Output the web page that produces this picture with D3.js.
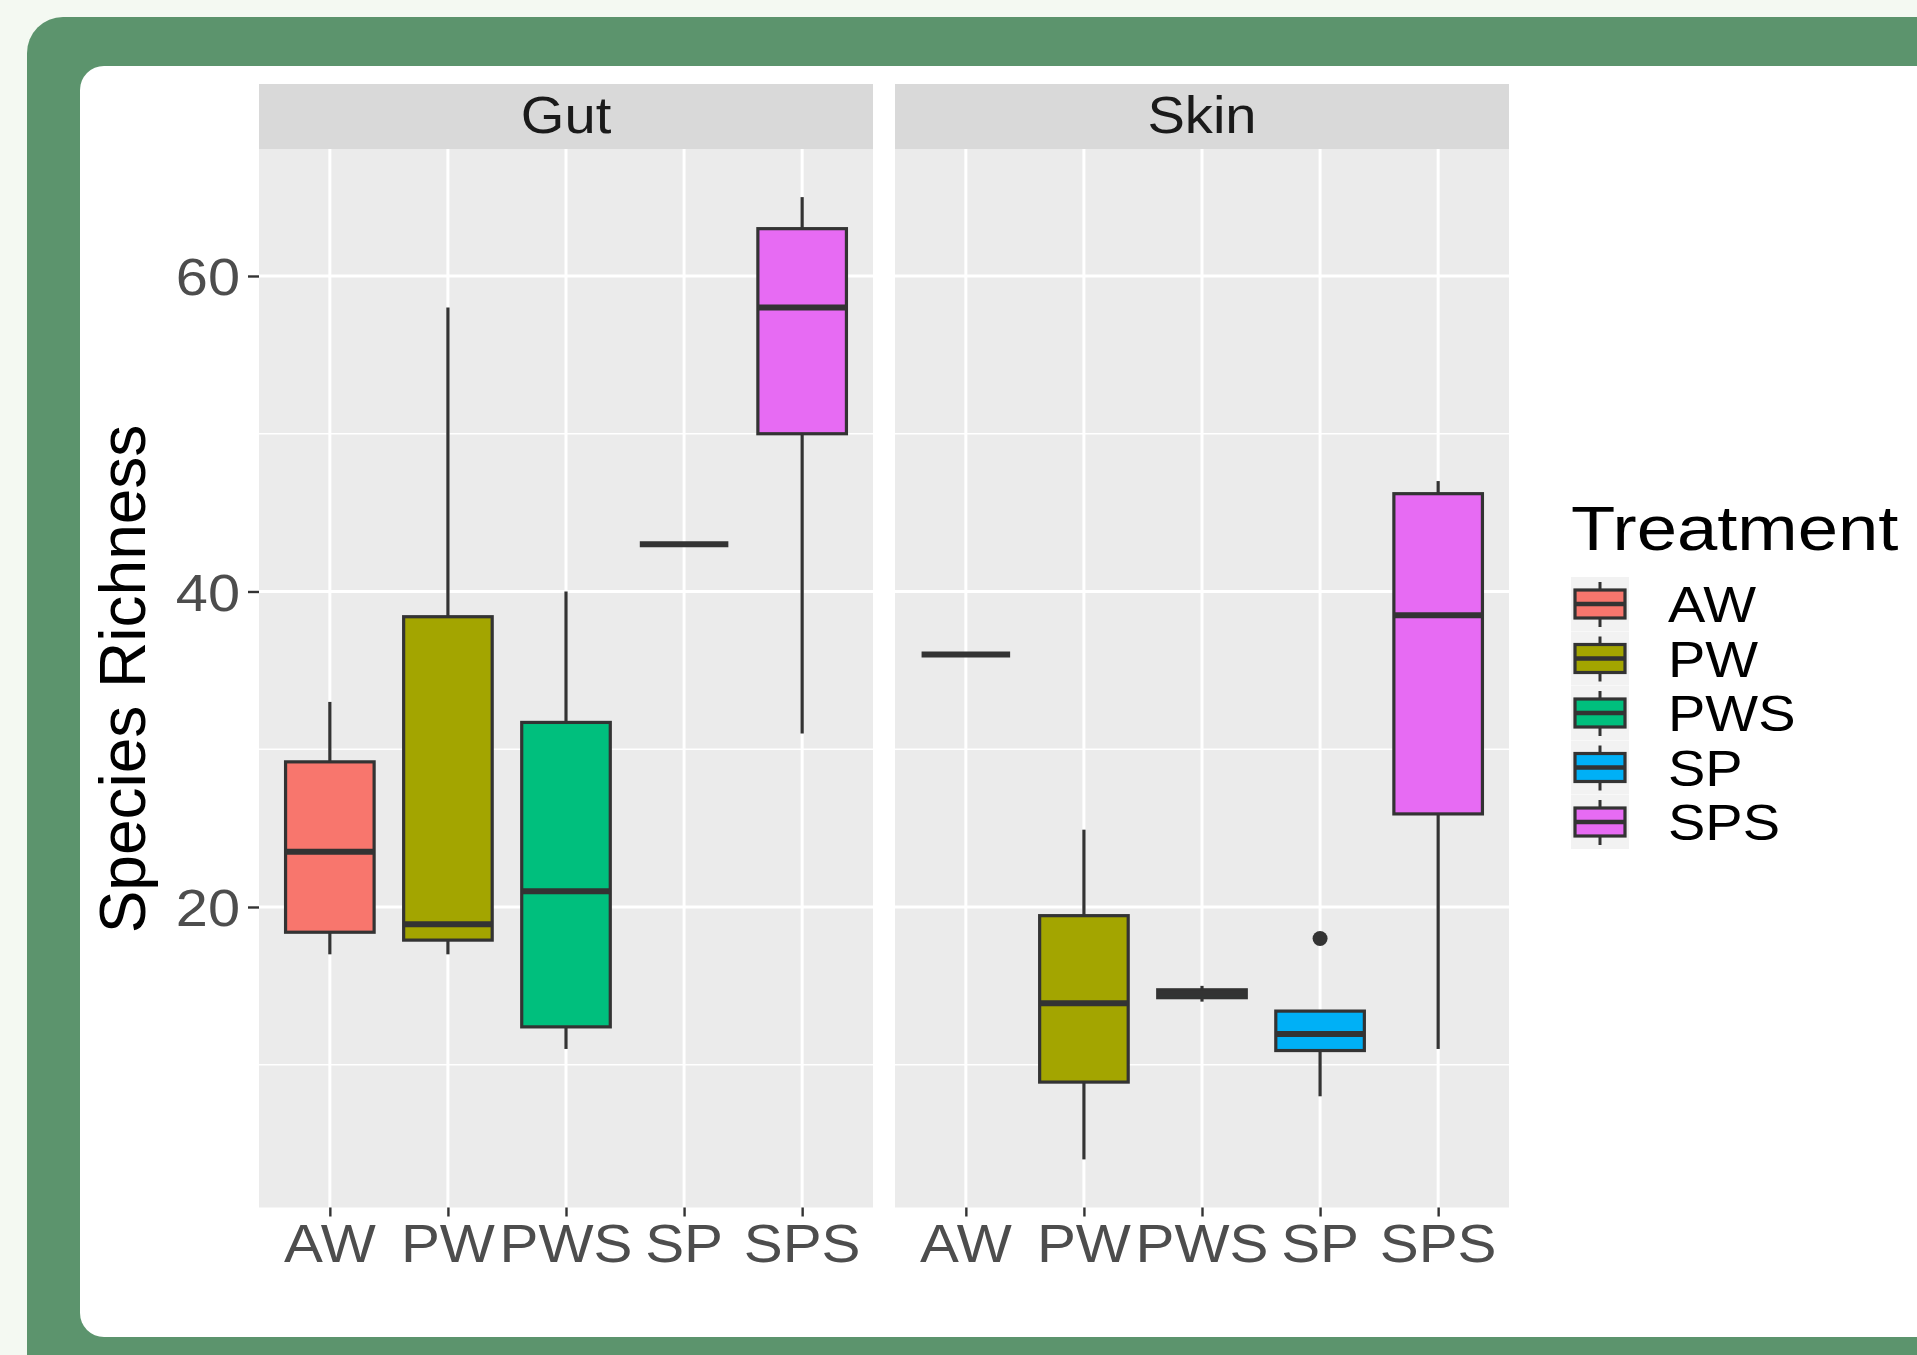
<!DOCTYPE html>
<html>
<head>
<meta charset="utf-8">
<title>Species richness by treatment</title>
<script src="https://cdn.jsdelivr.net/npm/d3@7/dist/d3.min.js"></script>
<style>
  body { margin: 0; background: #f4f9f2; }
  svg { display: block; font-family: "Liberation Sans", Arial, sans-serif; }
</style>
</head>
<body>
<svg id="chart" width="1917" height="1355"></svg>
<script>
// values
var treatments = ['AW', 'PW', 'PWS', 'SP', 'SPS'];
var fills = ['#F8766D', '#A3A500', '#00BF7D', '#00B0F6', '#E76BF3'];
var tissues = ['Gut', 'Skin'];

var gutLower = [17, 17, 11, 43, 31];
var gutQ1 = [18.4, 17.9, 12.4, 43, 50];
var gutMedian = [23.5, 18.9, 21, 43, 58];
var gutQ3 = [29.2, 38.4, 31.7, 43, 63];
var gutUpper = [33, 58, 40, 43, 65];
var gutOutliers = [[], [], [], [], []];

var skinLower = [36, 4, 14, 8, 11];
var skinQ1 = [36, 8.9, 14.25, 10.9, 25.9];
var skinMedian = [36, 13.9, 14.5, 11.95, 38.5];
var skinQ3 = [36, 19.45, 14.75, 13.4, 46.2];
var skinUpper = [36, 24.9, 15, 13.4, 47];
var skinOutliers = [[], [], [], [18], []];

var yMajor = [20, 40, 60];
var yMinor = [10, 30, 50];

function boxes(lo, q1, md, q3, hi, outl) {
  return treatments.map(function (t, i) {
    return {t: t, fill: fills[i], lo: lo[i], q1: q1[i], md: md[i], q3: q3[i], hi: hi[i], out: outl[i]};
  });
}
var panels = [
  {name: tissues[0], left: 259, data: boxes(gutLower, gutQ1, gutMedian, gutQ3, gutUpper, gutOutliers)},
  {name: tissues[1], left: 895, data: boxes(skinLower, skinQ1, skinMedian, skinQ3, skinUpper, skinOutliers)}
];

var svg = d3.select('#chart');
var panelW = 614, plotTop = 149, plotBottom = 1207.5, stripTop = 84;
var SX = 1.1;
var ink = '#333333', lw = 3.2;

// horizontal text, slightly stretched like the original bitmap
function label(g, x, y, str, size, anchor, fill, sx) {
  return g.append('text')
    .attr('transform', 'translate(' + x + ',' + y + ') scale(' + (sx || SX) + ',1)')
    .attr('text-anchor', anchor)
    .attr('font-size', size)
    .attr('fill', fill)
    .text(str);
}

// framing
svg.append('rect').attr('x', 27).attr('y', 17).attr('width', 1960).attr('height', 1400)
  .attr('rx', 36).attr('fill', '#5c946d');
svg.append('rect').attr('x', 80).attr('y', 66).attr('width', 1900).attr('height', 1271)
  .attr('rx', 24).attr('fill', '#ffffff');

var y = d3.scaleLinear().domain([0.95, 68.05]).range([plotBottom, plotTop]);

panels.forEach(function (p) {
  var x = d3.scalePoint().domain(treatments).range([p.left, p.left + panelW]).padding(0.6);
  var g = svg.append('g');
  var bw = x.step() * 0.75;

  g.append('rect').attr('x', p.left).attr('y', stripTop).attr('width', panelW).attr('height', plotTop - stripTop)
    .attr('fill', '#d9d9d9');
  label(g, p.left + panelW / 2, 133, p.name, 51, 'middle', '#1a1a1a');

  g.append('rect').attr('x', p.left).attr('y', plotTop).attr('width', panelW).attr('height', plotBottom - plotTop)
    .attr('fill', '#ebebeb');

  g.selectAll('.minor').data(yMinor).enter().append('line')
    .attr('x1', p.left).attr('x2', p.left + panelW)
    .attr('y1', function (d) { return y(d); }).attr('y2', function (d) { return y(d); })
    .attr('stroke', '#fff').attr('stroke-width', 1.6);
  g.selectAll('.major').data(yMajor).enter().append('line')
    .attr('x1', p.left).attr('x2', p.left + panelW)
    .attr('y1', function (d) { return y(d); }).attr('y2', function (d) { return y(d); })
    .attr('stroke', '#fff').attr('stroke-width', 3);
  g.selectAll('.vgrid').data(treatments).enter().append('line')
    .attr('x1', function (d) { return x(d); }).attr('x2', function (d) { return x(d); })
    .attr('y1', plotTop).attr('y2', plotBottom)
    .attr('stroke', '#fff').attr('stroke-width', 3);

  // x axis
  var xa = g.append('g').attr('transform', 'translate(0,' + plotBottom + ')')
    .call(d3.axisBottom(x).tickSize(9).tickPadding(0).tickFormat(''));
  xa.select('.domain').remove();
  xa.selectAll('line').attr('stroke', ink).attr('stroke-width', 2.4);
  treatments.forEach(function (t) {
    label(g, x(t), 1262, t, 54, 'middle', '#4d4d4d', 1.08);
  });

  // boxes
  var b = g.selectAll('.box').data(p.data).enter().append('g');
  b.append('line')
    .attr('x1', function (d) { return x(d.t); }).attr('x2', function (d) { return x(d.t); })
    .attr('y1', function (d) { return y(d.hi); }).attr('y2', function (d) { return y(d.q3); })
    .attr('stroke', ink).attr('stroke-width', lw);
  b.append('line')
    .attr('x1', function (d) { return x(d.t); }).attr('x2', function (d) { return x(d.t); })
    .attr('y1', function (d) { return y(d.q1); }).attr('y2', function (d) { return y(d.lo); })
    .attr('stroke', ink).attr('stroke-width', lw);
  b.append('rect')
    .attr('x', function (d) { return x(d.t) - bw / 2; })
    .attr('y', function (d) { return y(d.q3); })
    .attr('width', bw)
    .attr('height', function (d) { return y(d.q1) - y(d.q3); })
    .attr('fill', function (d) { return d.fill; })
    .attr('stroke', ink).attr('stroke-width', lw);
  b.append('line')
    .attr('x1', function (d) { return x(d.t) - bw / 2; }).attr('x2', function (d) { return x(d.t) + bw / 2; })
    .attr('y1', function (d) { return y(d.md); }).attr('y2', function (d) { return y(d.md); })
    .attr('stroke', ink).attr('stroke-width', 6);
  b.each(function (d) {
    d3.select(this).selectAll('circle').data(d.out).enter().append('circle')
      .attr('cx', x(d.t)).attr('cy', function (v) { return y(v); }).attr('r', 7.5)
      .attr('fill', ink);
  });
});

// y axis
var ya = svg.append('g').attr('transform', 'translate(259,0)')
  .call(d3.axisLeft(y).tickValues(yMajor).tickSize(11).tickPadding(8));
ya.select('.domain').remove();
ya.selectAll('line').attr('stroke', ink).attr('stroke-width', 2.4);
ya.selectAll('text')
  .attr('font-size', 52).attr('fill', '#4d4d4d')
  .attr('x', -19 / 1.11).attr('dy', '0.36em')
  .attr('transform', 'scale(1.11,1)');

svg.append('text')
  .attr('transform', 'translate(145,679) rotate(-90)')
  .attr('text-anchor', 'middle').attr('font-size', 64).attr('fill', '#000')
  .text('Species Richness');

// legend
var lg = svg.append('g');
label(lg, 1571, 550, 'Treatment', 63, 'start', '#000', 1.15);
var rowY = d3.scalePoint().domain(treatments).range([604, 822]);
var items = lg.selectAll('.item').data(treatments).enter().append('g')
  .attr('transform', function (d) { return 'translate(0,' + rowY(d) + ')'; });
items.append('rect').attr('x', 1571).attr('y', -27).attr('width', 58).attr('height', 54).attr('fill', '#f2f2f2');
items.append('line').attr('x1', 1600).attr('x2', 1600).attr('y1', -22).attr('y2', 23)
  .attr('stroke', ink).attr('stroke-width', 3);
items.append('rect').attr('x', 1575).attr('y', -14).attr('width', 50).attr('height', 28)
  .attr('fill', function (d, i) { return fills[i]; })
  .attr('stroke', ink).attr('stroke-width', 3.2);
items.append('line').attr('x1', 1575).attr('x2', 1625).attr('y1', 0).attr('y2', 0)
  .attr('stroke', ink).attr('stroke-width', 4.5);
items.each(function (d) {
  label(d3.select(this), 1668, 18, d, 50, 'start', '#000', 1.12);
});
</script>
</body>
</html>
